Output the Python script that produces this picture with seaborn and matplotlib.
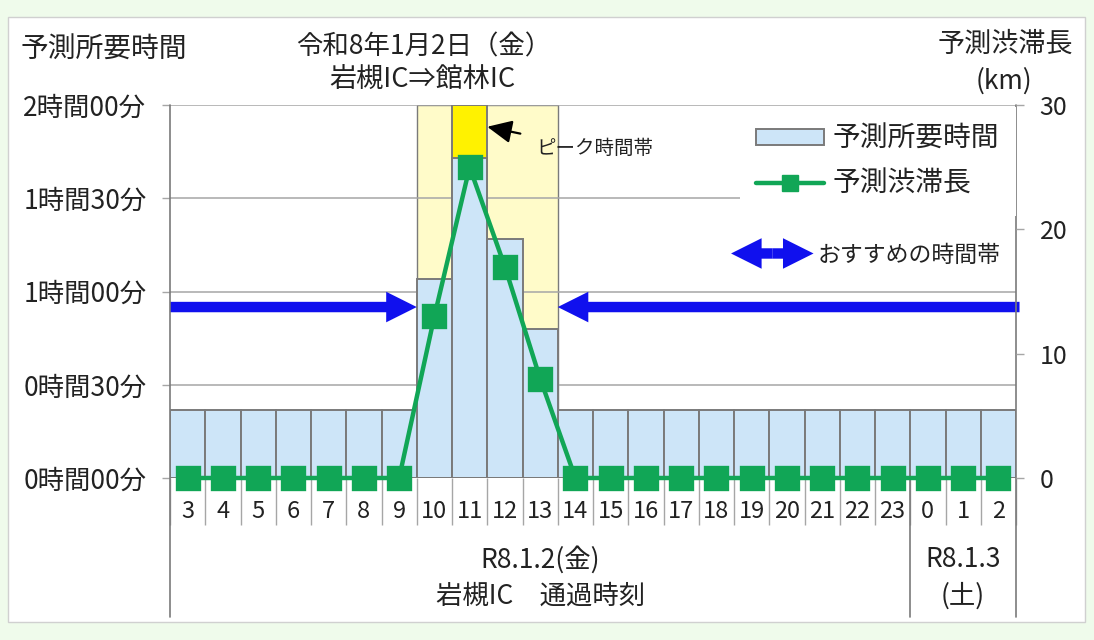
import numpy as np
import matplotlib
matplotlib.use("Agg")
import matplotlib.pyplot as plt
import seaborn as sns
from matplotlib.patches import Patch, Rectangle, FancyArrowPatch
from matplotlib.lines import Line2D
from matplotlib.legend_handler import HandlerBase
import matplotlib.transforms as mtransforms

# ---------------- data ----------------
hours = ['3', '4', '5', '6', '7', '8', '9', '10', '11', '12', '13', '14', '15',
         '16', '17', '18', '19', '20', '21', '22', '23', '0', '1', '2']
travel_min = [22, 22, 22, 22, 22, 22, 22, 64, 103, 77, 48, 22, 22,
              22, 22, 22, 22, 22, 22, 22, 22, 22, 22, 22]
jam_km = [0, 0, 0, 0, 0, 0, 0, 13, 25, 17, 8, 0, 0,
          0, 0, 0, 0, 0, 0, 0, 0, 0, 0, 0]
time_ticks = [0, 30, 60, 90, 120]
time_labels = ['0時間00分', '0時間30分', '1時間00分', '1時間30分', '2時間00分']
km_ticks = [0, 10, 20, 30]
peak_zone = ['10', '11', '12', '13']
peak_hour = '11'
recommend_before_end = '9'
recommend_after_start = '14'
day_labels = [('R8.1.2(金)', '岩槻IC　通過時刻'), ('R8.1.3', '(土)')]
day_breaks = ['3', '0']

# ---------------- style ----------------
sns.set_style('white')
plt.rcParams['font.family'] = ['Noto Sans CJK JP', 'DejaVu Sans']
TXT = '#222222'
BAR = '#cde5f8'
EDGE = '#7a7a7a'
ZONE = '#fffbc9'
PEAK = '#fff200'
GREEN = '#11a656'
BLUE = '#1010ee'
GRID = '#a6a6a6'

W, H = 1094, 640
def px(x, y):
    return (x / W, 1 - y / H)

fig = plt.figure(figsize=(W / 100, H / 100), dpi=100, facecolor='#effbeb')
fig.add_artist(Rectangle(px(8, 622), 1077 / W, 605 / H, transform=fig.transFigure,
                         facecolor='white', edgecolor='#d0d0d0', lw=1, zorder=-10))

ax = fig.add_axes([170 / W, 1 - 478 / H, (1016 - 170) / W, (478 - 105) / H])
ax.patch.set_visible(False)
n = len(hours)
pos = {h: i for i, h in enumerate(hours)}

# peak zone background
ax.axvspan(pos[peak_zone[0]] - 0.5, pos[peak_zone[-1]] + 0.5, ymin=0, ymax=1,
           facecolor=ZONE, edgecolor=EDGE, lw=1.0, zorder=0.2)

# peak box (up to axis max)
sns.barplot(x=[peak_hour], y=[time_ticks[-1]], order=hours, color=PEAK,
            saturation=1, width=1.0, edgecolor=EDGE, linewidth=1.4,
            errorbar=None, ax=ax)
# travel time bars
sns.barplot(x=hours, y=travel_min, order=hours, color=BAR, saturation=1,
            width=1.0, edgecolor=EDGE, linewidth=1.4, errorbar=None, ax=ax)

ax.set_ylim(time_ticks[0], time_ticks[-1])
ax.set_xlim(-0.5, n - 0.5)
ax.set_yticks(time_ticks)
ax.set_yticklabels(time_labels, fontsize=19, color=TXT)
ax.yaxis.grid(True, color=GRID, lw=1.1)
ax.xaxis.grid(False)
ax.set_axisbelow(True)
for s in ax.spines.values():
    s.set_visible(False)
ax.tick_params(axis='y', which='major', left=True, length=6, width=1,
               color=GRID, pad=11)
ax.set_xlabel('')
ax.set_ylabel('')

# recommended arrows
arrow_style = 'simple,head_width=2.2,head_length=2.2,tail_width=0.75'
ax.annotate('', xy=(pos[recommend_before_end] + 0.5, 55), xytext=(-0.5, 55),
            arrowprops=dict(arrowstyle=arrow_style, mutation_scale=10, color=BLUE,
                            lw=0, shrinkA=0, shrinkB=0),
            annotation_clip=False, zorder=3)
ax.annotate('', xy=(pos[recommend_after_start] - 0.5, 55), xytext=(n - 0.4, 55),
            arrowprops=dict(arrowstyle=arrow_style, mutation_scale=10, color=BLUE,
                            lw=0, shrinkA=0, shrinkB=0),
            annotation_clip=False, zorder=3)

# peak annotation
ax.annotate('ピーク時間帯', xy=(pos[peak_hour] + 0.5, 113), xytext=(35, -16),
            textcoords='offset points', ha='left', va='center', fontsize=14,
            color=TXT,
            arrowprops=dict(arrowstyle='-|>,head_length=1.5,head_width=0.7',
                            mutation_scale=10, color='black', lw=1.6,
                            shrinkA=9, shrinkB=0),
            zorder=4)

# jam length line
ax2 = ax.twinx()
sns.pointplot(x=hours, y=jam_km, order=hours, color=GREEN, markers='s',
              linestyles='-', errorbar=None, ax=ax2, markersize=15.5,
              linewidth=3.2, clip_on=False)
ax2.set_ylim(km_ticks[0], km_ticks[-1])
ax2.set_yticks(km_ticks)
ax2.set_yticklabels([str(k) for k in km_ticks], fontsize=18, color=TXT)
ax2.tick_params(axis='y', right=True, length=6, width=1, color=GRID, pad=11)
ax2.grid(False)
ax2.set_ylabel('')
ax2.set_xlabel('')
for s in ax2.spines.values():
    s.set_visible(False)

# x axis: hour labels & separators
ax.set_xlim(-0.5, n - 0.5)
ax.set_xticks(np.arange(n))
ax.set_xticklabels(hours, fontsize=17, color=TXT)
ax.set_xticks(np.arange(n + 1) - 0.5, minor=True)
ax.tick_params(axis='x', which='major', bottom=True, length=0, pad=16)
ax.tick_params(axis='x', which='minor', bottom=True, length=34, width=1, color=GRID)
ax.axhline(0, color=EDGE, lw=1.2, zorder=2.5)

ext = -(617 - 478) / (478 - 105)
ax.axvline(-0.5, ymin=ext, ymax=1, color=EDGE, lw=1.2, clip_on=False, zorder=3)
ax.axvline(n - 0.5, ymin=ext, ymax=1, color=EDGE, lw=1.2, clip_on=False, zorder=3)
ax.axvline(pos[day_breaks[1]] - 0.5, ymin=ext, ymax=0, color=EDGE, lw=1.2,
           clip_on=False, zorder=3)

trans = mtransforms.blended_transform_factory(ax.transData, ax.transAxes)
bounds = [pos[day_breaks[0]] - 0.5, pos[day_breaks[1]] - 0.5, n - 0.5]
for i, (l1, l2) in enumerate(day_labels):
    xc = (bounds[i] + bounds[i + 1]) / 2
    ax.text(xc, -0.218, l1, transform=trans, ha='center', va='center',
            fontsize=19, color=TXT)
    ax.text(xc, -0.316, l2, transform=trans, ha='center', va='center',
            fontsize=19, color=TXT)

# header texts
fig.text(*px(21, 50), '予測所要時間', ha='left', va='center', fontsize=20, color=TXT)
fig.text(*px(424, 47), '令和8年1月2日（金）', ha='center', va='center', fontsize=19, color=TXT)
fig.text(*px(422, 80), '岩槻IC⇒館林IC', ha='center', va='center', fontsize=19.5, color=TXT)
fig.text(*px(1073, 44), '予測渋滞長', ha='right', va='center', fontsize=19.5, color=TXT)
fig.text(*px(1004, 81), '(km)', ha='center', va='center', fontsize=19, color=TXT)

# legends
leg1 = ax2.legend(handles=[Patch(facecolor=BAR, edgecolor=EDGE, lw=1.4),
                           Line2D([], [], color=GREEN, marker='s', lw=3.2,
                                  markersize=11.5)],
                  labels=['予測所要時間', '予測渋滞長'],
                  loc='upper right', bbox_to_anchor=px(1016, 107),
                  bbox_transform=fig.transFigure, borderaxespad=0,
                  fontsize=20, frameon=True, facecolor='white', edgecolor='none',
                  framealpha=1, fancybox=False, borderpad=0.6,
                  handlelength=2.45, handleheight=0.5, handletextpad=0.3,
                  labelspacing=0.55, labelcolor=TXT)
ax2.add_artist(leg1)


class DoubleArrow:
    pass


class HandlerDoubleArrow(HandlerBase):
    def create_artists(self, legend, orig_handle, xdescent, ydescent, width,
                       height, fontsize, trans):
        y = height / 2 - ydescent
        xm = width / 2 - xdescent
        arts = []
        for xe in (-xdescent, width - xdescent):
            a = FancyArrowPatch((xm, y), (xe, y), arrowstyle=arrow_style,
                                mutation_scale=10, color=BLUE, lw=0,
                                shrinkA=0, shrinkB=0, transform=trans)
            arts.append(a)
        return arts


leg2 = ax2.legend(handles=[DoubleArrow()], labels=['おすすめの時間帯'],
                  handler_map={DoubleArrow: HandlerDoubleArrow()},
                  loc='center right', bbox_to_anchor=px(1008, 255),
                  bbox_transform=fig.transFigure, borderaxespad=0,
                  fontsize=16.5, frameon=True, facecolor='white', edgecolor='none',
                  framealpha=1, fancybox=False, borderpad=0.3,
                  handlelength=3.6, handletextpad=0.2, labelcolor=TXT)

fig.savefig('out.png', dpi=100)
